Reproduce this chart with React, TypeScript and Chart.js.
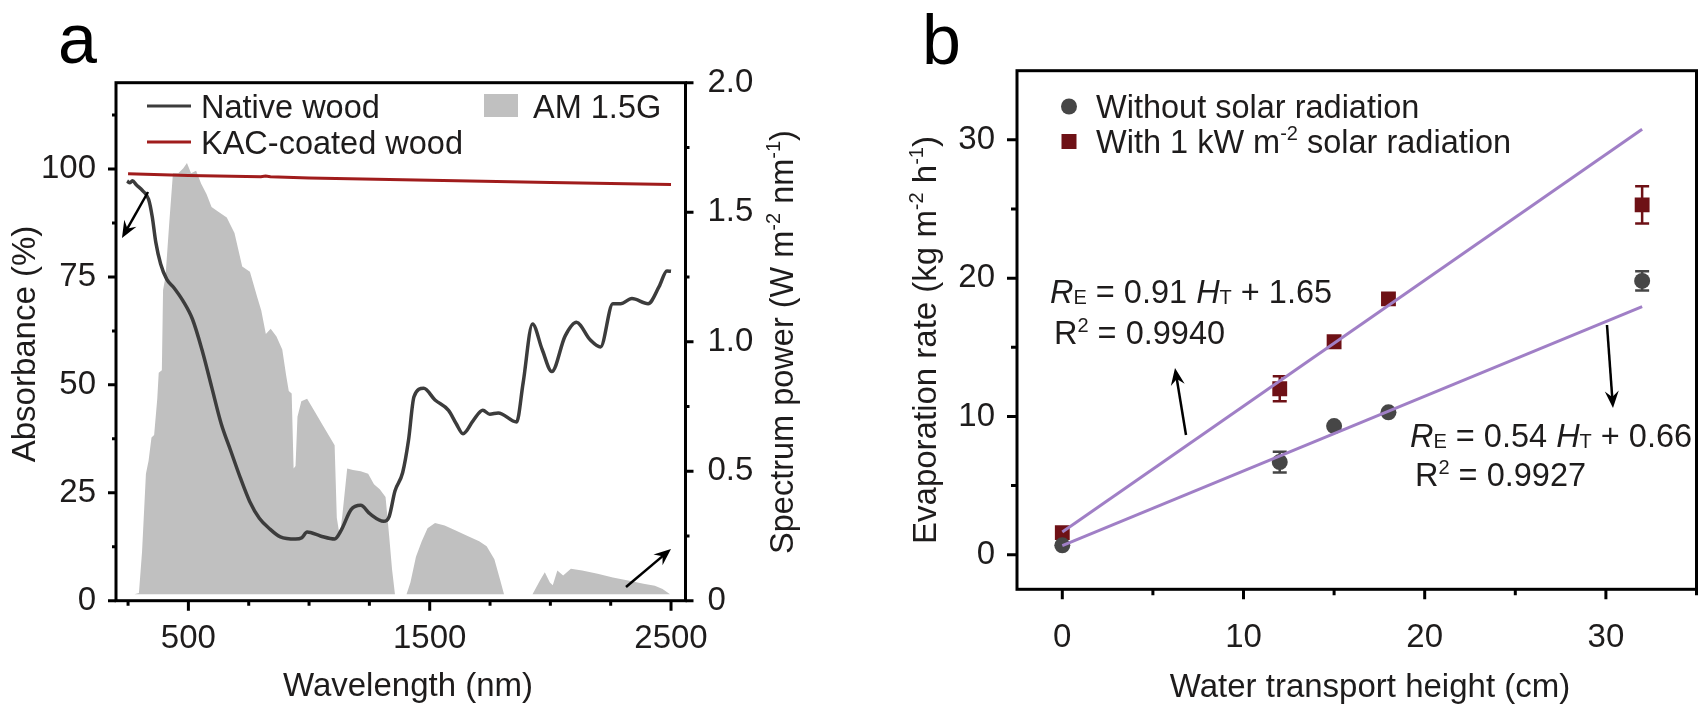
import React, { useEffect, useRef } from 'react';
import { Chart, registerables } from 'chart.js';

Chart.register(...registerables);

const FONT = '"Liberation Sans", Arial, Helvetica, sans-serif';
const TEXT = '#1e1c1c';

// ---------- Panel a data ----------
const wavelengthNative = [246, 258, 268, 285, 310, 335, 350, 365, 385, 410, 440, 477, 517, 556, 596, 636, 675, 715, 754, 794, 834, 881, 944, 970, 992, 1047, 1106, 1134, 1174, 1214, 1253, 1309, 1332, 1356, 1388, 1412, 1435, 1475, 1522, 1578, 1610, 1638, 1681, 1720, 1749, 1784, 1860, 1887, 1926, 1966, 2006, 2061, 2108, 2164, 2208, 2259, 2291, 2338, 2405, 2451, 2483, 2500];
const absorbanceNative = [97.2, 96.8, 97.3, 96.3, 95, 93, 89, 83, 78, 74.5, 72.5, 69.5, 65.2, 58.2, 49.6, 41, 34.8, 28.5, 23, 19.1, 16.8, 14.8, 14.3, 14.6, 15.9, 15, 14.3, 16.4, 21.1, 22.1, 20.1, 18.4, 19.5, 25.4, 29.7, 37.1, 47.3, 49.2, 46.5, 44.1, 41, 38.7, 41.8, 44.1, 43.2, 43.5, 41.4, 50.4, 64.1, 58.2, 53.1, 61.3, 64.5, 60.5, 58.8, 68.8, 68.8, 70, 68.8, 72.8, 76.4, 76.3];

const wavelengthKAC = [250, 500, 800, 820, 840, 1000, 1500, 2000, 2500];
const absorbanceKAC = [98.9, 98.5, 98.2, 98.4, 98.2, 97.9, 97.4, 96.9, 96.4];

const wavelengthAM = [276, 295, 308, 324, 335, 347, 358, 371, 377, 390, 395, 405, 420, 436, 458, 479, 494, 511, 532, 553, 575, 596, 627, 659, 691, 723, 755, 786, 802, 821, 841, 865, 889, 905, 916, 928, 936, 944, 952, 968, 992, 1024, 1055, 1087, 1106, 1115, 1127, 1138, 1158, 1182, 1214, 1245, 1269, 1293, 1317, 1332, 1344, 1356, 1404, 1420, 1443, 1467, 1491, 1522, 1562, 1610, 1657, 1705, 1736, 1768, 1792, 1808, 1926, 1958, 1977, 1998, 2010, 2029, 2053, 2085, 2132, 2196, 2259, 2322, 2386, 2433, 2465, 2496];
const powerAM = [0.025, 0.03, 0.19, 0.49, 0.54, 0.63, 0.64, 0.78, 0.88, 0.89, 1.2, 1.25, 1.45, 1.65, 1.65, 1.67, 1.69, 1.65, 1.66, 1.61, 1.57, 1.52, 1.5, 1.48, 1.42, 1.29, 1.27, 1.17, 1.12, 1.03, 1.05, 1.02, 0.97, 0.87, 0.81, 0.8, 0.51, 0.52, 0.71, 0.77, 0.78, 0.73, 0.68, 0.63, 0.6, 0.32, 0.25, 0.33, 0.51, 0.505, 0.5, 0.49, 0.45, 0.43, 0.4, 0.25, 0.12, 0.025, 0.025, 0.07, 0.17, 0.23, 0.28, 0.3, 0.29, 0.27, 0.25, 0.23, 0.21, 0.16, 0.08, 0.025, 0.025, 0.08, 0.11, 0.07, 0.06, 0.117, 0.097, 0.123, 0.117, 0.104, 0.09, 0.078, 0.065, 0.058, 0.045, 0.025];
const amBaseline = 0.025;

const wavelengthTicks = [500, 1500, 2500];
const wavelengthMinor = [250, 750, 1000, 1250, 1750, 2000, 2250];
const absorbanceTicks = [0, 25, 50, 75, 100];
const absorbanceMinor = [12.5, 37.5, 62.5, 87.5, 112.5];
const powerTicks = [0, 0.5, 1, 1.5, 2];
const powerMinor = [0.25, 0.75, 1.25, 1.75];

// ---------- Panel b data ----------
const heights = [0, 12, 15, 18, 32];
const rateWithout = [0.68, 6.7, 9.3, 10.3, 19.8];
const errWithout = [0, 0.75, 0, 0, 0.7];
const rateWith = [1.6, 12.0, 15.4, 18.5, 25.3];
const errWith = [0, 0.9, 0, 0, 1.35];
const fitX = [0, 32];
const fitWithY = [1.65, 30.77];
const fitWithoutY = [0.66, 17.94];

const heightTicks = [0, 10, 20, 30];
const heightMinor = [5, 15, 25, 35];
const rateTicks = [0, 10, 20, 30];
const rateMinor = [5, 15, 25];

const GREY_PT = '#464646';
const RED_PT = '#6e1116';
const PURPLE = '#a07fc6';

type Seg = { t: string; italic?: boolean; size?: number; dy?: number };

function drawRich(ctx: CanvasRenderingContext2D, segs: Seg[], x: number, y: number, base: number, align: 'left' | 'center' = 'left') {
  const widths = segs.map((s) => {
    ctx.font = `${s.italic ? 'italic ' : ''}${s.size || base}px ${FONT}`;
    return ctx.measureText(s.t).width;
  });
  const total = widths.reduce((a, b) => a + b, 0);
  let cx = align === 'center' ? x - total / 2 : x;
  ctx.textAlign = 'left';
  ctx.textBaseline = 'alphabetic';
  segs.forEach((s, i) => {
    ctx.font = `${s.italic ? 'italic ' : ''}${s.size || base}px ${FONT}`;
    ctx.fillText(s.t, cx, y + (s.dy || 0));
    cx += widths[i];
  });
}

function drawRotated(ctx: CanvasRenderingContext2D, segs: Seg[], cx: number, cy: number, base: number) {
  ctx.save();
  ctx.translate(cx, cy);
  ctx.rotate(-Math.PI / 2);
  drawRich(ctx, segs, 0, base * 0.358, base, 'center');
  ctx.restore();
}

function arrow(ctx: CanvasRenderingContext2D, x1: number, y1: number, x2: number, y2: number) {
  const head = 17;
  const half = 7;
  const ang = Math.atan2(y2 - y1, x2 - x1);
  const c = Math.cos(ang);
  const s = Math.sin(ang);
  ctx.lineWidth = 2.5;
  ctx.beginPath();
  ctx.moveTo(x1, y1);
  ctx.lineTo(x2 - head * 0.6 * c, y2 - head * 0.6 * s);
  ctx.stroke();
  ctx.beginPath();
  ctx.moveTo(x2, y2);
  ctx.lineTo(x2 - head * c + half * s, y2 - head * s - half * c);
  ctx.lineTo(x2 - head * 0.65 * c, y2 - head * 0.65 * s);
  ctx.lineTo(x2 - head * c - half * s, y2 - head * s + half * c);
  ctx.closePath();
  ctx.fill();
}

function drawTicks(ctx: CanvasRenderingContext2D, scale: any, values: number[], len: number, side: 'left' | 'right' | 'bottom') {
  ctx.beginPath();
  values.forEach((v) => {
    const p = scale.getPixelForValue(v);
    if (side === 'bottom') {
      ctx.moveTo(p, scale.top);
      ctx.lineTo(p, scale.top + len);
    } else if (side === 'left') {
      ctx.moveTo(scale.right, p);
      ctx.lineTo(scale.right - len, p);
    } else {
      ctx.moveTo(scale.left, p);
      ctx.lineTo(scale.left + len, p);
    }
  });
  ctx.stroke();
}

const A_OFF = 0;
const B_OFF = 860;

const tickFont = { family: FONT, size: 33 };
const plain = (v: any) => String(v);

function ChartA() {
  const ref = useRef<HTMLCanvasElement>(null);
  useEffect(() => {
    const decor = {
      id: 'decorA',
      afterDraw(chart: any) {
        const ctx = chart.ctx as CanvasRenderingContext2D;
        const a = chart.chartArea;
        const { x, y, y2 } = chart.scales;
        ctx.save();
        ctx.strokeStyle = '#000';
        ctx.lineWidth = 3;
        ctx.lineCap = 'butt';
        drawTicks(ctx, x, wavelengthTicks, 10, 'bottom');
        drawTicks(ctx, x, wavelengthMinor, 5, 'bottom');
        drawTicks(ctx, y, absorbanceTicks, 8, 'left');
        drawTicks(ctx, y, absorbanceMinor, 4, 'left');
        drawTicks(ctx, y2, powerTicks, 8, 'right');
        drawTicks(ctx, y2, powerMinor, 4, 'right');
        ctx.strokeRect(a.left, a.top, a.right - a.left, a.bottom - a.top);

        ctx.translate(-A_OFF, 0);
        ctx.fillStyle = TEXT;
        // legend
        ctx.lineWidth = 3;
        ctx.strokeStyle = '#3c3c3c';
        ctx.beginPath();
        ctx.moveTo(147, 106);
        ctx.lineTo(191, 106);
        ctx.stroke();
        ctx.strokeStyle = '#a01c1c';
        ctx.beginPath();
        ctx.moveTo(147, 142);
        ctx.lineTo(191, 142);
        ctx.stroke();
        ctx.fillStyle = '#c0c0c0';
        ctx.fillRect(484, 94, 34, 23);
        ctx.fillStyle = TEXT;
        drawRich(ctx, [{ t: 'Native wood' }], 201, 117.5, 32.5);
        drawRich(ctx, [{ t: 'KAC-coated wood' }], 201, 153.5, 32.5);
        drawRich(ctx, [{ t: 'AM 1.5G' }], 533, 117.5, 32.5);

        // arrows
        ctx.strokeStyle = '#000';
        ctx.fillStyle = '#000';
        arrow(ctx, 148, 192, 122, 238);
        arrow(ctx, 626, 587, 671, 549);

        // axis titles
        ctx.fillStyle = TEXT;
        drawRich(ctx, [{ t: 'Wavelength (nm)' }], 408, 696, 33, 'center');
        drawRotated(ctx, [{ t: 'Absorbance (%)' }], 23, 344, 33);
        drawRotated(ctx, [
          { t: 'Spectrum power (W m' },
          { t: '-2', size: 20, dy: -13 },
          { t: ' nm' },
          { t: '-1', size: 20, dy: -13 },
          { t: ')' },
        ], 781, 342, 32.5);

        // panel letter
        ctx.fillStyle = '#000';
        drawRich(ctx, [{ t: 'a' }], 58, 63, 70);
        ctx.restore();
      },
    };

    const chart = new Chart(ref.current as HTMLCanvasElement, {
      type: 'line',
      data: {
        datasets: [
          {
            label: 'AM 1.5G',
            data: wavelengthAM.map((v, i) => ({ x: v, y: powerAM[i] })),
            yAxisID: 'y2',
            borderWidth: 0,
            borderColor: 'rgba(0,0,0,0)',
            backgroundColor: '#c0c0c0',
            fill: { value: amBaseline },
            pointRadius: 0,
            tension: 0,
            order: 3,
          } as any,
          {
            label: 'Native wood',
            data: wavelengthNative.map((v, i) => ({ x: v, y: absorbanceNative[i] })),
            yAxisID: 'y',
            borderColor: '#3c3c3c',
            borderWidth: 3.5,
            pointRadius: 0,
            cubicInterpolationMode: 'monotone',
            fill: false,
            order: 1,
          },
          {
            label: 'KAC-coated wood',
            data: wavelengthKAC.map((v, i) => ({ x: v, y: absorbanceKAC[i] })),
            yAxisID: 'y',
            borderColor: '#a01c1c',
            borderWidth: 3,
            pointRadius: 0,
            fill: false,
            order: 2,
          },
        ],
      },
      options: {
        animation: false,
        responsive: false,
        devicePixelRatio: 1,
        layout: { padding: { top: 82.7, left: 0, right: 0, bottom: 0 } },
        plugins: { legend: { display: false }, tooltip: { enabled: false } },
        scales: {
          x: {
            type: 'linear',
            position: 'bottom',
            min: 200,
            max: 2560,
            grid: { display: false, drawTicks: false },
            border: { display: false },
            ticks: { font: tickFont, color: TEXT, padding: 18, maxRotation: 0, autoSkip: false, callback: plain },
            afterBuildTicks: (s: any) => {
              s.ticks = wavelengthTicks.map((v) => ({ value: v }));
            },
            afterFit: (s: any) => {
              s.height = 704 - 600.7;
            },
          },
          y: {
            type: 'linear',
            position: 'left',
            min: 0,
            max: 120,
            grid: { display: false, drawTicks: false },
            border: { display: false },
            ticks: { font: tickFont, color: TEXT, padding: 20, autoSkip: false, callback: plain },
            afterBuildTicks: (s: any) => {
              s.ticks = absorbanceTicks.map((v) => ({ value: v }));
            },
            afterFit: (s: any) => {
              s.width = 116;
            },
          },
          y2: {
            type: 'linear',
            position: 'right',
            min: 0,
            max: 2,
            grid: { display: false, drawTicks: false },
            border: { display: false },
            ticks: {
              font: tickFont,
              color: TEXT,
              padding: 22,
              autoSkip: false,
              callback: (v: any) => (Number(v) === 0 ? '0' : Number(v).toFixed(1)),
            },
            afterBuildTicks: (s: any) => {
              s.ticks = powerTicks.map((v) => ({ value: v }));
            },
            afterFit: (s: any) => {
              s.width = 860 - 685.5;
            },
          },
        },
      } as any,
      plugins: [decor],
    });
    return () => chart.destroy();
  }, []);
  return <canvas ref={ref} width={860} height={704} style={{ position: 'absolute', left: A_OFF, top: 0, width: 860, height: 704 }} />;
}

function ChartB() {
  const ref = useRef<HTMLCanvasElement>(null);
  useEffect(() => {
    const errBars = {
      id: 'errBars',
      beforeDatasetsDraw(chart: any) {
        const ctx = chart.ctx as CanvasRenderingContext2D;
        const { x, y } = chart.scales;
        ctx.save();
        ctx.lineWidth = 2.5;
        const draw = (vals: number[], errs: number[], color: string) => {
          ctx.strokeStyle = color;
          vals.forEach((v, i) => {
            if (!errs[i]) return;
            const px = x.getPixelForValue(heights[i]);
            const top = y.getPixelForValue(v + errs[i]);
            const bot = y.getPixelForValue(v - errs[i]);
            ctx.beginPath();
            ctx.moveTo(px, top);
            ctx.lineTo(px, bot);
            ctx.moveTo(px - 7, top);
            ctx.lineTo(px + 7, top);
            ctx.moveTo(px - 7, bot);
            ctx.lineTo(px + 7, bot);
            ctx.stroke();
          });
        };
        draw(rateWithout, errWithout, GREY_PT);
        draw(rateWith, errWith, RED_PT);
        ctx.restore();
      },
    };
    const decor = {
      id: 'decorB',
      afterDraw(chart: any) {
        const ctx = chart.ctx as CanvasRenderingContext2D;
        const a = chart.chartArea;
        const { x, y } = chart.scales;
        ctx.save();
        ctx.strokeStyle = '#000';
        ctx.lineWidth = 3;
        drawTicks(ctx, x, heightTicks, 10, 'bottom');
        drawTicks(ctx, x, heightMinor, 6, 'bottom');
        drawTicks(ctx, y, rateTicks, 10, 'left');
        drawTicks(ctx, y, rateMinor, 6, 'left');
        ctx.strokeRect(a.left, a.top, a.right - a.left, a.bottom - a.top);

        ctx.translate(-B_OFF, 0);
        // legend
        ctx.fillStyle = GREY_PT;
        ctx.beginPath();
        ctx.arc(1069, 106.5, 8, 0, Math.PI * 2);
        ctx.fill();
        ctx.fillStyle = RED_PT;
        ctx.fillRect(1061.5, 134, 15, 15);
        ctx.fillStyle = TEXT;
        drawRich(ctx, [{ t: 'Without solar radiation' }], 1096, 118, 32.5);
        drawRich(ctx, [
          { t: 'With 1 kW m' },
          { t: '-2', size: 20, dy: -13 },
          { t: ' solar radiation' },
        ], 1096, 153, 32.5);

        // equations
        drawRich(ctx, [
          { t: 'R', italic: true },
          { t: 'E', size: 20, dy: 1 },
          { t: ' = 0.91 ' },
          { t: 'H', italic: true },
          { t: 'T', size: 20, dy: 1 },
          { t: ' + 1.65' },
        ], 1050, 303, 32.5);
        drawRich(ctx, [{ t: 'R' }, { t: '2', size: 20, dy: -12 }, { t: ' = 0.9940' }], 1054, 343.5, 32.5);
        drawRich(ctx, [
          { t: 'R', italic: true },
          { t: 'E', size: 20, dy: 1 },
          { t: ' = 0.54 ' },
          { t: 'H', italic: true },
          { t: 'T', size: 20, dy: 1 },
          { t: ' + 0.66' },
        ], 1410, 446.5, 32.5);
        drawRich(ctx, [{ t: 'R' }, { t: '2', size: 20, dy: -12 }, { t: ' = 0.9927' }], 1415, 486, 32.5);

        // arrows
        ctx.strokeStyle = '#000';
        ctx.fillStyle = '#000';
        arrow(ctx, 1186, 435, 1175, 368);
        arrow(ctx, 1607, 325, 1613, 408);

        // titles
        ctx.fillStyle = TEXT;
        drawRich(ctx, [{ t: 'Water transport height (cm)' }], 1370, 697, 33, 'center');
        drawRotated(ctx, [
          { t: 'Evaporation rate (kg m' },
          { t: '-2', size: 20, dy: -13 },
          { t: ' h' },
          { t: '-1', size: 20, dy: -13 },
          { t: ')' },
        ], 924, 340, 33);

        ctx.fillStyle = '#000';
        drawRich(ctx, [{ t: 'b' }], 922, 64, 70);
        ctx.restore();
      },
    };

    const chart = new Chart(ref.current as HTMLCanvasElement, {
      type: 'scatter',
      data: {
        datasets: [
          {
            type: 'line',
            label: 'fit with',
            data: fitX.map((v, i) => ({ x: v, y: fitWithY[i] })),
            borderColor: PURPLE,
            borderWidth: 3,
            pointRadius: 0,
            showLine: true,
            fill: false,
            order: 1,
          },
          {
            type: 'line',
            label: 'fit without',
            data: fitX.map((v, i) => ({ x: v, y: fitWithoutY[i] })),
            borderColor: PURPLE,
            borderWidth: 3,
            pointRadius: 0,
            showLine: true,
            fill: false,
            order: 1,
          },
          {
            label: 'Without solar radiation',
            data: heights.map((v, i) => ({ x: v, y: rateWithout[i] })),
            pointStyle: 'circle',
            pointRadius: 8,
            backgroundColor: GREY_PT,
            borderWidth: 0,
            order: 2,
          },
          {
            label: 'With 1 kW m-2 solar radiation',
            data: heights.map((v, i) => ({ x: v, y: rateWith[i] })),
            pointStyle: 'rect',
            pointRadius: 10.5,
            backgroundColor: RED_PT,
            borderWidth: 0,
            order: 2,
          },
        ],
      } as any,
      options: {
        animation: false,
        responsive: false,
        devicePixelRatio: 1,
        layout: { padding: { top: 70.7, left: 0, right: 847 - 844.5, bottom: 0 } },
        plugins: { legend: { display: false }, tooltip: { enabled: false } },
        scales: {
          x: {
            type: 'linear',
            position: 'bottom',
            min: -2.5,
            max: 35,
            grid: { display: false, drawTicks: false },
            border: { display: false },
            ticks: { font: tickFont, color: TEXT, padding: 29, maxRotation: 0, autoSkip: false, callback: plain },
            afterBuildTicks: (s: any) => {
              s.ticks = heightTicks.map((v) => ({ value: v }));
            },
            afterFit: (s: any) => {
              s.height = 704 - 589.3;
            },
          },
          y: {
            type: 'linear',
            position: 'left',
            min: -2.5,
            max: 35,
            grid: { display: false, drawTicks: false },
            border: { display: false },
            ticks: { font: tickFont, color: TEXT, padding: 22, autoSkip: false, callback: plain },
            afterBuildTicks: (s: any) => {
              s.ticks = rateTicks.map((v) => ({ value: v }));
            },
            afterFit: (s: any) => {
              s.width = 1017 - B_OFF;
            },
          },
        },
      } as any,
      plugins: [errBars, decor],
    });
    return () => chart.destroy();
  }, []);
  return <canvas ref={ref} width={847} height={704} style={{ position: 'absolute', left: B_OFF, top: 0, width: 847, height: 704 }} />;
}

export default function App() {
  return (
    <div style={{ position: 'absolute', left: 0, top: 0, width: 1707, height: 704, background: '#fff', overflow: 'hidden' }}>
      <ChartA />
      <ChartB />
    </div>
  );
}
